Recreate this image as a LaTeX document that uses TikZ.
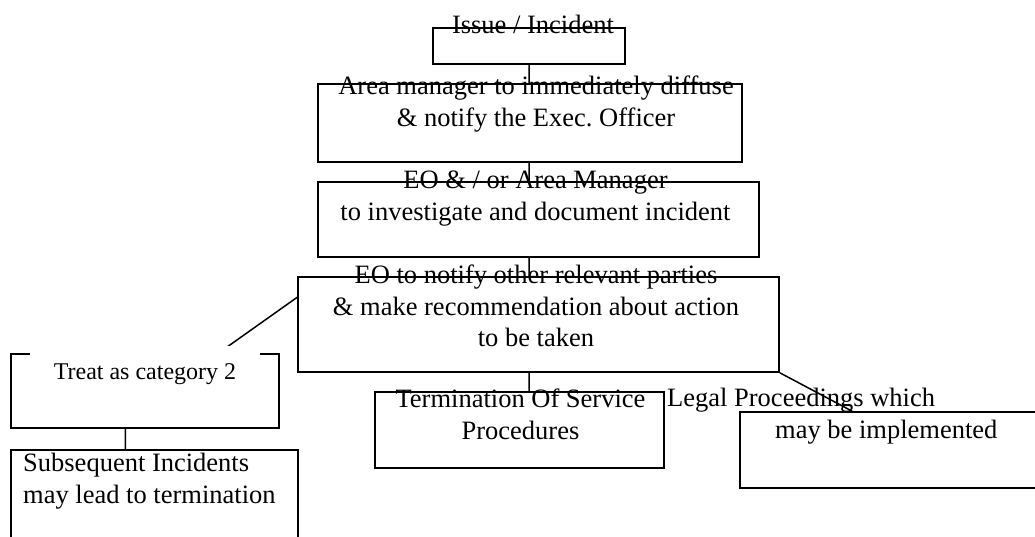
\documentclass[tikz,border=0pt]{standalone}
\usepackage{fontspec}
\setmainfont{Liberation Serif}
\usetikzlibrary{calc}
\frenchspacing
\tikzset{
  box/.style={draw,line width=1.5pt,inner sep=0pt},
  link/.style={line width=1.5pt},
  txt/.style={inner sep=0pt,align=center,font=\fontsize{26.5}{31.5}\selectfont}
}

\begin{document}
\begin{tikzpicture}[x=1pt,y=-1pt]
  \useasboundingbox (0,0) rectangle (1035,536);
  % boxes: name/centre x/centre y/width/height
  \foreach \n/\x/\y/\w/\h in {issue/529/46/192/36, diffuse/530/123/424/78, invest/538.5/219.5/441/75,
      notify/538.5/324.5/481/95, treat/145/391/268/74, subseq/154.5/497.5/287/95,
      termin/519.5/430/289/76, legal/890/450/300/76}{
    \node[box,minimum width=\w pt,minimum height=\h pt] (\n) at (\x,\y) {};
  }
  \coordinate (spine) at (529,0);
  \coordinate (legalin) at ($(legal.north west)+(113,0)$);
  \coordinate (treatin) at ($(treat.north west)+(208,0)$);
  \coordinate (treatout) at ($(treat.south west)+(115,0)$);
  \draw[link] (issue.south) -- (spine |- diffuse.north)
    (spine |- diffuse.south) -- (spine |- invest.north)
    (spine |- invest.south) -- (spine |- notify.north)
    (spine |- notify.south) -- (spine |- termin.north)
    (notify.south east) -- (legalin)
    ($(notify.north west)+(0,21)$) -- (treatin)
    (treatout) -- (treatout |- subseq.north);
  % texts
  \node[txt,anchor=north] (issuetxt) at (533,15) {Issue / Incident};
  \node[txt,anchor=north] (diffusetxt) at (536,76) {Area manager to immediately diffuse\\\& notify the Exec. Officer};
  \node[txt,anchor=north] (investtxt) at (535.5,171) {EO \& / or Area Manager\\to investigate and document incident};
  \node[txt,anchor=north] (notifytxt) at (536,265) {EO to notify other relevant parties\\\& make recommendation about action\\to be taken};
  \node[txt,anchor=north] (termintxt) at (520.5,389) {Termination Of Service\\Procedures};
  \node[txt,anchor=north west,align=left] (legaltxt) at (667,388) {Legal Proceedings which\\\hspace*{108pt}may be implemented};
  \node[txt,anchor=north west,align=left] (subseqtxt) at (23,453) {Subsequent Incidents\\may lead to termination};
  \node[txt,fill=white,font=\fontsize{24}{28}\selectfont,minimum width=230pt,minimum height=55pt,anchor=north] (treattxt) at (145,346) {Treat as category 2};
\end{tikzpicture}
\end{document}
